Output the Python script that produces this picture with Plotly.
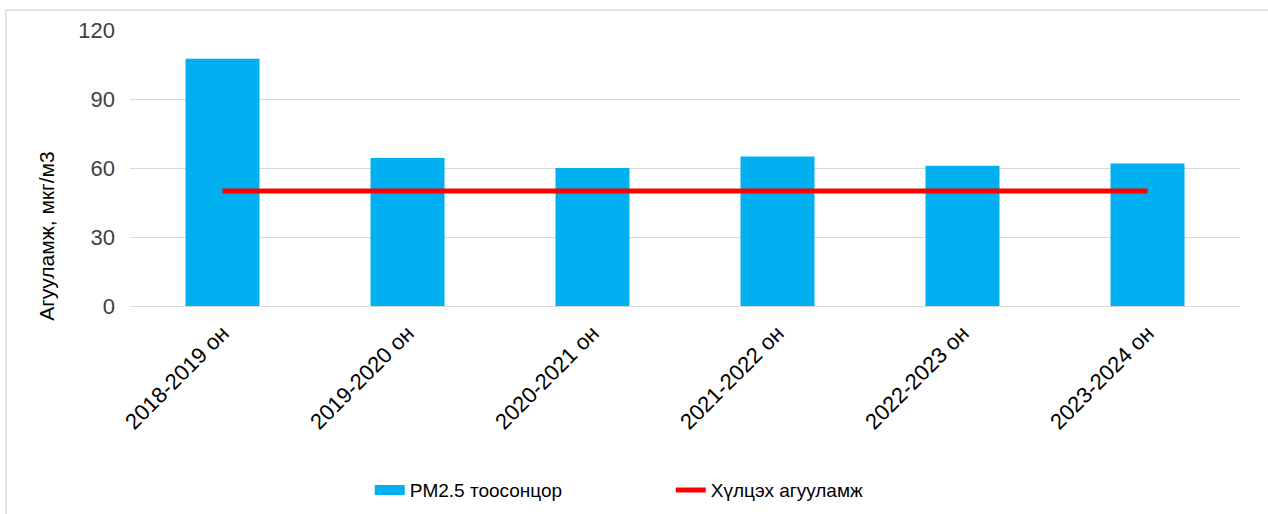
import plotly.graph_objects as go

categories = ["2018-2019 он", "2019-2020 он", "2020-2021 он", "2021-2022 он", "2022-2023 он", "2023-2024 он"]
pm25 = [107.5, 64.3, 60.0, 65.0, 61.0, 62.0]
limit = [50, 50, 50, 50, 50, 50]
y_ticks = [0, 30, 60, 90, 120]

FONT = "Liberation Sans, Arial, sans-serif"
BLUE = "#00B0F0"
RED = "#FF0000"

fig = go.Figure()
fig.add_trace(go.Bar(x=categories, y=pm25, name="PM2.5 тоосонцор", showlegend=False,
                     marker=dict(color=BLUE, line=dict(width=0)), width=0.4))
# legend proxy: wide rectangle swatch like the reference
fig.add_trace(go.Scatter(x=[None], y=[None], name="PM2.5 тоосонцор", mode="lines",
                         line=dict(color=BLUE, width=10)))
fig.add_trace(go.Scatter(x=categories, y=limit, name="Хүлцэх агууламж", mode="lines",
                         line=dict(color=RED, width=5)))

fig.update_layout(
    width=1268, height=514, autosize=False,
    margin=dict(l=130, r=28, t=30, b=208, autoexpand=False),
    paper_bgcolor="white", plot_bgcolor="white",
    font=dict(family=FONT, color="#404040"),
    showlegend=True,
    legend=dict(orientation="h", x=0.216, xanchor="left", y=-0.667, yanchor="middle",
                entrywidth=256, entrywidthmode="pixels",
                font=dict(size=19, color="#000000"), traceorder="normal"),
    xaxis=dict(tickangle=-45, tickfont=dict(size=22, color="#000000"),
               showgrid=False, showline=False, ticks="", zeroline=False, automargin=False,
               ticklabelstandoff=9),
    yaxis=dict(range=[0, 120], tickvals=y_ticks, tickfont=dict(size=22, color="#404040"),
               showgrid=True, gridcolor="#D9D9D9", gridwidth=1.3, zeroline=True,
               zerolinecolor="#D9D9D9", zerolinewidth=1.3, showline=False, ticks="",
               ticklabelstandoff=14, automargin=False),
)
fig.add_annotation(text="Агууламж, мкг/м3", xref="paper", yref="paper",
                   x=-0.0748, y=0.254, xanchor="center", yanchor="middle",
                   textangle=-90, showarrow=False,
                   font=dict(size=21, color="#000000", family=FONT))
fig.add_shape(type="rect", xref="paper", yref="paper",
              x0=-0.1117, x1=1.06, y0=-0.9, y1=1.072,
              line=dict(color="#D9D9D9", width=1.5), fillcolor="rgba(0,0,0,0)")
fig.write_html("out.html", config={"displayModeBar": False},
               post_script="document.body.style.margin='0';")
